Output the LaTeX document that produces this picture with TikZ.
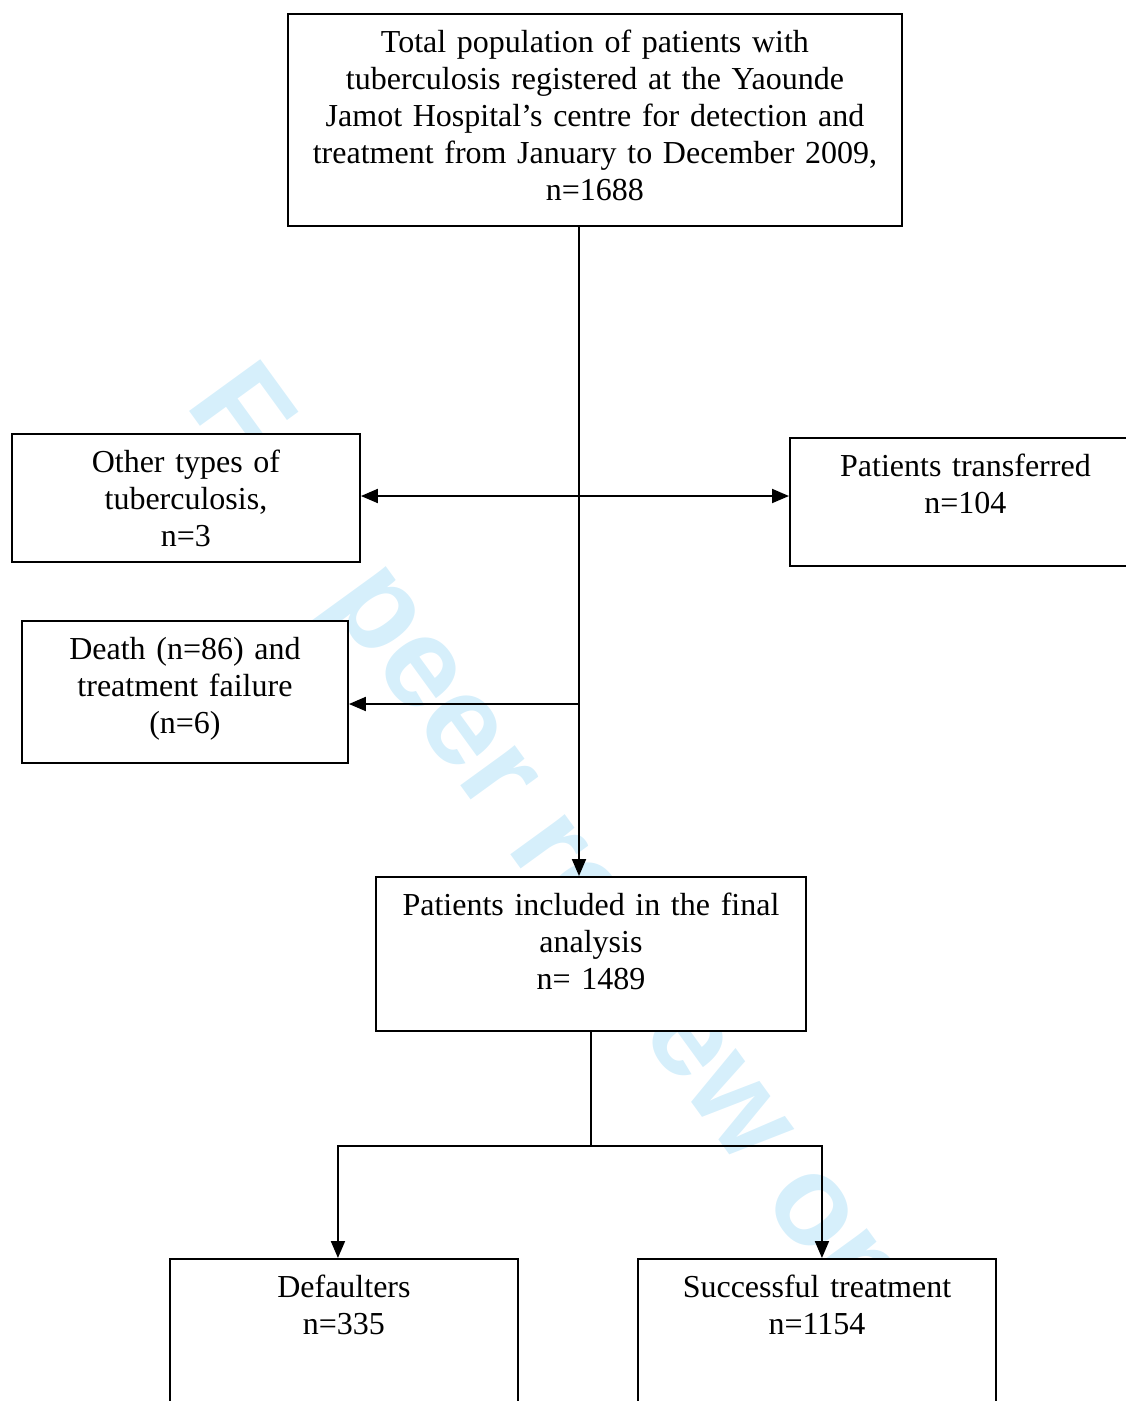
\documentclass[tikz,border=0pt]{standalone}
\usepackage{fontspec}
\setmainfont{Liberation Serif}
\newfontfamily\markfont{Liberation Sans}
\usepackage{tikz}
\usetikzlibrary{arrows.meta}
\definecolor{markblue}{RGB}{214,239,251}
\tikzset{
  box/.style   = {draw, fill=white, line width=1.9pt,
                  anchor=north west, inner sep=0pt,
                  align=center, text height=39pt},
  flow/.style  = {line width=1.9pt, -{Triangle[length=17pt,width=14pt]}},
  plain/.style = {line width=1.9pt},
  stamp/.style = {text=markblue, inner sep=0pt, anchor=base west,
                  font=\markfont\bfseries\fontsize{128}{128}\selectfont}
}

\begin{document}
\begin{tikzpicture}[x=1pt, y=-1pt, font=\fontsize{32}{36.8}\selectfont]
  \useasboundingbox (0,0) rectangle (1126,1401);
  \clip (0,0) rectangle (1126,1401);

  % watermark behind everything
  \node[stamp, rotate=-54] (review) at (184,404) {For peer review only};

  \node[box, text width=614pt, text depth=173pt] (total) at (287,13)
    {Total population of patients with\\
     tuberculosis registered at the Yaounde\\
     Jamot Hospital’s centre for detection and\\
     treatment from January to December 2009,\\
     n=1688};
  \node[box, text width=348pt, text depth=89pt] (other) at (11,433)
    {Other types of\\ tuberculosis,\\ n=3};
  \node[box, text width=351pt, text depth=89pt] (transf) at (789,437)
    {Patients transferred\\ n=104};
  \node[box, text width=326pt, text depth=103pt] (death) at (21,620)
    {Death (n=86) and\\ treatment failure\\ (n=6)};
  \node[box, text width=430pt, text depth=115pt] (final) at (375,876)
    {Patients included in the final\\ analysis\\ n= 1489};
  \node[box, text width=348pt, text depth=170pt] (defl) at (169,1258)
    {Defaulters\\ n=335};
  \node[box, text width=358pt, text depth=170pt] (succ) at (637,1258)
    {Successful treatment\\ n=1154};

  \coordinate (split1) at (579,496);
  \coordinate (split2) at (579,704);
  \coordinate (fork)   at (591,1146);

  \draw[flow] (total.south -| split1) -- (final.north -| split1);
  \draw[flow] (split1) -- (other.east |- split1);
  \draw[flow] (split1) -- (transf.west |- split1);
  \draw[flow] (split2) -- (death.east |- split2);

  \draw[plain] (final.south -| fork) -- (fork);
  \draw[flow] (fork) -| ([xshift=-6pt]defl.north);
  \draw[flow] (fork) -| ([xshift=5pt]succ.north);
\end{tikzpicture}
\end{document}
